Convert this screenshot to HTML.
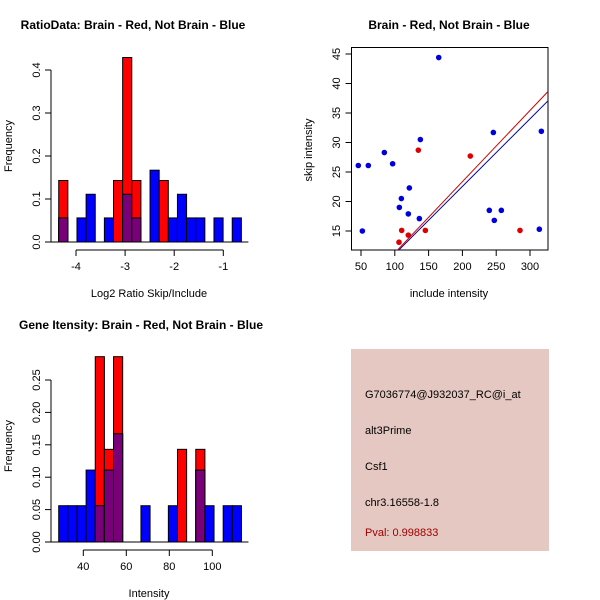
<!DOCTYPE html>
<html><head><meta charset="utf-8"><style>
body{margin:0;background:#fff}
svg{display:block;font-family:"Liberation Sans",sans-serif}
</style></head><body>
<svg id="c" width="600" height="600" xmlns="http://www.w3.org/2000/svg">
<rect width="600" height="600" fill="#fff"/>
<text x="133" y="29" font-size="12" font-weight="bold" text-anchor="middle">RatioData: Brain - Red, Not Brain - Blue</text>
<text x="149" y="297" font-size="11" text-anchor="middle">Log2 Ratio Skip/Include</text>
<text transform="translate(12,146) rotate(-90)" font-size="11" text-anchor="middle">Frequency</text>
<text x="449" y="29" font-size="12" font-weight="bold" text-anchor="middle">Brain - Red, Not Brain - Blue</text>
<text x="449" y="297" font-size="11" text-anchor="middle">include intensity</text>
<text transform="translate(312,150) rotate(-90)" font-size="11" text-anchor="middle">skip intensity</text>
<text x="141" y="329" font-size="12" font-weight="bold" text-anchor="middle">Gene Itensity: Brain - Red, Not Brain - Blue</text>
<text x="149" y="597" font-size="11" text-anchor="middle">Intensity</text>
<text transform="translate(12,446) rotate(-90)" font-size="11" text-anchor="middle">Frequency</text>
<g>
<rect x="351" y="349" width="198" height="202" fill="#e5c8c1"/>
<text x="365" y="398" font-size="11" fill="#000">G7036774@J932037_RC@i_at</text>
<text x="365" y="434" font-size="11" fill="#000">alt3Prime</text>
<text x="365" y="470" font-size="11" fill="#000">Csf1</text>
<text x="365" y="506" font-size="11" fill="#000">chr3.16558-1.8</text>
<text x="365" y="536" font-size="11" fill="#a00000">Pval: 0.998833</text>
</g>
</svg>
<script>
// Ratio histogram data
const ratioBinStart = -4.352, ratioBinWidth = 0.186;
const ratioRed  = [0.143,0,0,0,0,0,0.143,0.429,0.143,0,0,0.143,0,0,0,0,0,0,0,0];
const ratioBlue = [0.056,0,0.056,0.111,0,0.056,0,0.111,0.056,0,0.167,0,0.056,0.111,0.056,0.056,0,0.056,0,0.056];
const ratioXTicks = [-4,-3,-2,-1];
const ratioYTicks = [0,0.1,0.2,0.3,0.4];
// Intensity histogram data
const intBinStart = 28.56, intBinWidth = 4.25;
const intRed  = [0,0,0,0,0.286,0.143,0.286,0,0,0,0,0,0,0.143,0,0.143,0,0,0,0];
const intBlue = [0.056,0.056,0.056,0.111,0.056,0.111,0.167,0,0,0.056,0,0,0.056,0,0,0.111,0.056,0,0.056,0.056];
const intXTicks = [40,60,80,100];
const intYTicks = [0,0.05,0.10,0.15,0.20,0.25];
// Scatter data
const blueX = [46,60.8,84.5,96.8,52,165,137.8,106.7,109.7,121.5,120,136.3,245.8,239.8,257.6,247.2,313.8,316.8];
const blueY = [26.1,26.1,28.3,26.4,15,44.4,30.5,19,20.5,22.3,17.9,17.1,31.7,18.5,18.5,16.8,15.3,31.9];
const redX = [134.8,211.7,110.2,120,145.2,106.2,285.2];
const redY = [28.7,27.7,15.1,14.3,15.1,13.1,15.1];
const redFit = [-0.78,0.1207];
const blueFit = [-0.37,0.1146];
const scXTicks = [50,100,150,200,250,300];
const scYTicks = [15,20,25,30,35,40,45];

const svg = document.getElementById('c');
const NS = 'http://www.w3.org/2000/svg';
function mk(tag, attrs){const e=document.createElementNS(NS,tag);for(const k in attrs)e.setAttribute(k,attrs[k]);svg.appendChild(e);return e;}

function hist(prefix, start, w, red, blue, xt, yt, xs, ys, yfmt, ay0){
  for(let i=0;i<red.length;i++){
    const x0=xs(start+i*w), x1=xs(start+(i+1)*w);
    const r=red[i], b=blue[i], m=Math.min(r,b);
    if(b>0){const e=mk('rect',{x:x0,y:ys(b),width:x1-x0,height:ys(0)-ys(b),fill:'#0000ff',stroke:'#000','stroke-width':1});
      
      }
    if(r>0){const e=mk('rect',{x:x0,y:ys(r),width:x1-x0,height:ys(0)-ys(r),fill:'#ff0000',stroke:'#000','stroke-width':1});
      
      }
    if(m>0){const e=mk('rect',{x:x0,y:ys(m),width:x1-x0,height:ys(0)-ys(m),fill:'#7a007a',stroke:'#000','stroke-width':1});
      
      }
  }
  const base=mk('line',{x1:xs(start)-8,x2:xs(start+red.length*w)+7,y1:ys(0),y2:ys(0),stroke:'#000'});
  
  
  const ax=mk('line',{x1:xs(xt[0]),x2:xs(xt[xt.length-1]),y1:ay0,y2:ay0,stroke:'#000'});
  
  
  xt.forEach(v=>{mk('line',{x1:xs(v),x2:xs(v),y1:ay0,y2:ay0+6,stroke:'#000'});
    const t=mk('text',{x:xs(v),y:ay0+20,'font-size':11,'text-anchor':'middle'});t.textContent=v;
    
    });
  const yax=mk('line',{x1:51,x2:51,y1:ys(yt[0]),y2:ys(yt[yt.length-1]),stroke:'#000'});
  
  
  yt.forEach(v=>{mk('line',{x1:45,x2:51,y1:ys(v),y2:ys(v),stroke:'#000'});
    const t=mk('text',{transform:`translate(40,${ys(v)}) rotate(-90)`,'font-size':11,'text-anchor':'middle'});t.textContent=yfmt(v);
    
    });
}
hist('ratio',ratioBinStart,ratioBinWidth,ratioRed,ratioBlue,ratioXTicks,ratioYTicks,
  v=>76+(v+4)*49.1, v=>242-v*430, v=>v.toFixed(1), 250);
hist('intensity',intBinStart,intBinWidth,intRed,intBlue,intXTicks,intYTicks,
  v=>83.3+(v-40)*2.15, v=>542-v*648, v=>v.toFixed(2), 550);

// scatter
const sx=v=>361+(v-50)*0.676, sy=v=>231-(v-15)*5.9;
const box=mk('rect',{x:351.5,y:47.5,width:196.5,height:202.5,fill:'none',stroke:'#000'});


const cp=mk('clipPath',{id:'scclip'});const cr=document.createElementNS(NS,'rect');
cr.setAttribute('x',352);cr.setAttribute('y',48);cr.setAttribute('width',196);cr.setAttribute('height',202);cp.appendChild(cr);
scXTicks.forEach(v=>{mk('line',{x1:sx(v),x2:sx(v),y1:250,y2:256,stroke:'#000'});
  const t=mk('text',{x:sx(v),y:270,'font-size':11,'text-anchor':'middle'});t.textContent=v;
  
  });
scYTicks.forEach(v=>{mk('line',{x1:345.5,x2:351.5,y1:sy(v),y2:sy(v),stroke:'#000'});
  const t=mk('text',{transform:`translate(340,${sy(v)}) rotate(-90)`,'font-size':11,'text-anchor':'middle'});t.textContent=v;
  
  });
blueX.forEach((v,i)=>{const c=mk('circle',{cx:sx(v),cy:sy(blueY[i]),r:2.8,fill:'#0000dd'});
  
  });
redX.forEach((v,i)=>{const c=mk('circle',{cx:sx(v),cy:sy(redY[i]),r:2.8,fill:'#dd0000'});
  
  });
[[redFit,'#cc0000','brain-fit-line'],[blueFit,'#0000aa','not-brain-fit-line']].forEach(([f,col,nm])=>{
  const xa=80,xb=340;
  const l=mk('line',{x1:sx(xa),y1:sy(f[0]+f[1]*xa),x2:sx(xb),y2:sy(f[0]+f[1]*xb),stroke:col,'clip-path':'url(#scclip)'});
  
  });
</script>
</body></html>
